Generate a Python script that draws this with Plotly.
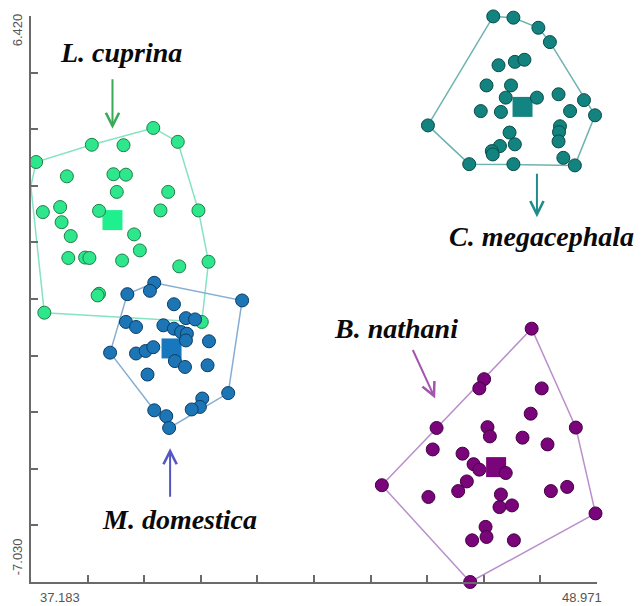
import plotly.graph_objects as go

# ---------------- data ----------------
X_MIN, X_MAX = 37.183, 48.971
Y_MIN, Y_MAX = -7.030, 6.420

groups = ["L. cuprina", "M. domestica", "C. megacephala", "B. nathani"]

cuprina_x = [39.73, 40.24, 38.45, 39.11, 37.29, 37.18, 37.93, 38.90, 39.16, 38.97,
             40.04, 37.43, 37.79, 37.82, 38.60, 39.88, 40.67, 38.01, 39.33, 39.45,
             37.96, 38.31, 38.40, 39.08, 40.27, 40.88, 38.60, 38.57, 37.46, 40.74]
cuprina_y = [3.76, 3.43, 3.36, 3.35, 2.95, 2.38, 2.61, 2.66, 2.65, 2.24,
             2.24, 1.76, 1.88, 1.52, 1.79, 1.80, 1.80, 1.19, 1.23, 0.85,
             0.67, 0.68, 0.67, 0.61, 0.47, 0.58, -0.18, -0.22, -0.63, -0.85]

domestica_x = [39.75, 39.66, 39.19, 41.58, 40.16, 39.16, 39.37, 40.41, 40.60, 39.94,
               40.16, 40.31, 40.43, 40.41, 40.89, 38.83, 39.37, 39.57, 39.73, 40.18,
               40.39, 40.86, 39.61, 41.29, 40.75, 40.70, 40.53, 39.75, 40.00, 40.06]
domestica_y = [0.08, -0.11, -0.19, -0.34, -0.43, -0.85, -0.97, -0.76, -0.79, -0.93,
               -1.01, -1.09, -1.13, -1.29, -1.31, -1.58, -1.60, -1.54, -1.45, -1.78,
               -1.92, -1.88, -2.10, -2.54, -2.67, -2.87, -2.93, -2.95, -3.09, -3.37]

megacephala_x = [46.81, 47.23, 47.75, 47.99, 46.92, 47.26, 47.46, 46.67, 47.18, 47.07,
                 47.72, 48.17, 48.70, 46.55, 46.97, 48.41, 48.93, 45.45, 48.20, 48.18,
                 47.15, 48.17, 46.95, 46.78, 46.80, 47.26, 48.27, 46.31, 47.23, 48.51]
megacephala_y = [6.41, 6.38, 6.14, 5.80, 5.25, 5.33, 5.38, 4.77, 4.77, 4.48,
                 4.48, 4.56, 4.42, 4.16, 4.14, 4.16, 4.06, 3.82, 3.80, 3.66,
                 3.65, 3.44, 3.33, 3.21, 3.13, 3.37, 3.05, 2.90, 2.90, 2.87]

nathani_x = [47.61, 46.62, 46.52, 47.82, 47.59, 45.63, 46.69, 46.74, 47.42, 48.53,
             47.94, 45.55, 46.17, 46.40, 46.52, 47.07, 46.26, 46.08, 44.49, 45.46,
             48.01, 48.35, 46.97, 46.94, 47.20, 48.94, 46.65, 46.67, 46.37, 47.24, 46.33]
nathani_y = [-1.01, -2.21, -2.43, -2.43, -3.03, -3.37, -3.35, -3.57, -3.60, -3.36,
             -3.76, -3.88, -3.98, -4.23, -4.36, -4.44, -4.64, -4.87, -4.73, -5.01,
             -4.87, -4.77, -4.95, -5.25, -5.21, -5.40, -5.72, -5.96, -6.04, -6.04, -7.03]

centroid_x = [38.88, 40.11, 47.42, 46.87]
centroid_y = [1.57, -1.48, 4.26, -4.30]

xs = [cuprina_x, domestica_x, megacephala_x, nathani_x]
ys = [cuprina_y, domestica_y, megacephala_y, nathani_y]

# ---------------- styles ----------------
marker_fill = ["#2EE68C", "#1C76B6", "#12837F", "#7A057A"]
marker_edge = ["#1F7F48", "#0C3C66", "#0A4B48", "#430043"]
hull_color = ["#86E3C0", "#86AED3", "#6DB4AF", "#B990CC"]
centroid_color = ["#1DF08C", "#1878BE", "#128582", "#7A057A"]
arrow_color = ["#3AAA58", "#5555C4", "#1D8C8A", "#A456AC"]


def convex_hull(px, py):
    pts = sorted(set(zip(px, py)))
    if len(pts) < 3:
        return pts

    def cross(o, a, b):
        return (a[0] - o[0]) * (b[1] - o[1]) - (a[1] - o[1]) * (b[0] - o[0])

    lower, upper = [], []
    for p in pts:
        while len(lower) >= 2 and cross(lower[-2], lower[-1], p) <= 0:
            lower.pop()
        lower.append(p)
    for p in reversed(pts):
        while len(upper) >= 2 and cross(upper[-2], upper[-1], p) <= 0:
            upper.pop()
        upper.append(p)
    return lower[:-1] + upper[:-1]


fig = go.Figure()

# hulls
for i in range(4):
    h = convex_hull(xs[i], ys[i])
    h = h + [h[0]]
    fig.add_trace(go.Scatter(
        x=[p[0] for p in h], y=[p[1] for p in h], mode="lines",
        line=dict(color=hull_color[i], width=1.5), hoverinfo="skip",
        showlegend=False, cliponaxis=False))

# centroids
for i in range(4):
    fig.add_trace(go.Scatter(
        x=[centroid_x[i]], y=[centroid_y[i]], mode="markers",
        marker=dict(symbol="square", size=20, color=centroid_color[i],
                    line=dict(width=0)),
        showlegend=False, cliponaxis=False))

# points
for i in range(4):
    fig.add_trace(go.Scatter(
        x=xs[i], y=ys[i], mode="markers", name=groups[i],
        marker=dict(symbol="circle", size=13, color=marker_fill[i],
                    line=dict(color=marker_edge[i], width=1)),
        showlegend=False, cliponaxis=False))

# ---------------- labels and arrows ----------------
label_x = [39.06, 40.27, 47.81, 44.79]
label_y = [5.56, -5.54, 1.18, -1.00]
arrow_x = [38.88, 40.08, 47.72, 45.60]
arrow_y = [3.74, -3.85, 1.64, -2.67]
arrow_ax = [0, 0, 0, -23]
arrow_ay = [-51, 50, -45, -50]

annotations = []
for i in range(4):
    annotations.append(dict(
        x=label_x[i], y=label_y[i], xref="x", yref="y", text="<b><i>%s</i></b>" % groups[i],
        showarrow=False, xanchor="center", yanchor="middle",
        font=dict(family="Liberation Serif, Times New Roman, serif", size=28, color="#0A0A0A")))
    annotations.append(dict(
        x=arrow_x[i], y=arrow_y[i], xref="x", yref="y", ax=arrow_ax[i], ay=arrow_ay[i],
        axref="pixel", ayref="pixel", text="", showarrow=True,
        arrowhead=5, arrowsize=1.3, arrowwidth=2, arrowcolor=arrow_color[i]))

tick_font = dict(family="Liberation Sans, Arial, sans-serif", size=13, color="#555555")
annotations += [
    dict(x=0.0512, y=0, xref="paper", yref="paper", text="37.183", showarrow=False,
         xanchor="center", yanchor="top", yshift=-6, font=tick_font),
    dict(x=0.9735, y=0, xref="paper", yref="paper", text="48.971", showarrow=False,
         xanchor="center", yanchor="top", yshift=-6, font=tick_font),
    dict(x=-0.0247, y=0.9747, xref="paper", yref="paper", text="6.420", showarrow=False,
         textangle=-90, xanchor="center", yanchor="middle", font=tick_font),
    dict(x=-0.0247, y=0.0437, xref="paper", yref="paper", text="-7.030", showarrow=False,
         textangle=-90, xanchor="center", yanchor="middle", font=tick_font),
]

axis_common = dict(showgrid=False, zeroline=False, showline=True, linecolor="#6A6A6A",
                   linewidth=1.5, ticks="inside", ticklen=7, tickwidth=1.5,
                   tickcolor="#6A6A6A", showticklabels=False, tickmode="linear")

# the page adds an 8px body margin, so the figure is offset by 8px
fig.update_layout(
    width=635, height=598,
    margin=dict(l=23, r=46, t=8, b=24),
    paper_bgcolor="white", plot_bgcolor="white",
    xaxis=dict(range=[X_MIN, X_MAX], tick0=X_MIN, dtick=(X_MAX - X_MIN) / 10, **axis_common),
    yaxis=dict(range=[Y_MIN, Y_MAX], tick0=Y_MIN, dtick=(Y_MAX - Y_MIN) / 10, **axis_common),
    annotations=annotations,
    showlegend=False,
)

fig.write_html("out.html")
